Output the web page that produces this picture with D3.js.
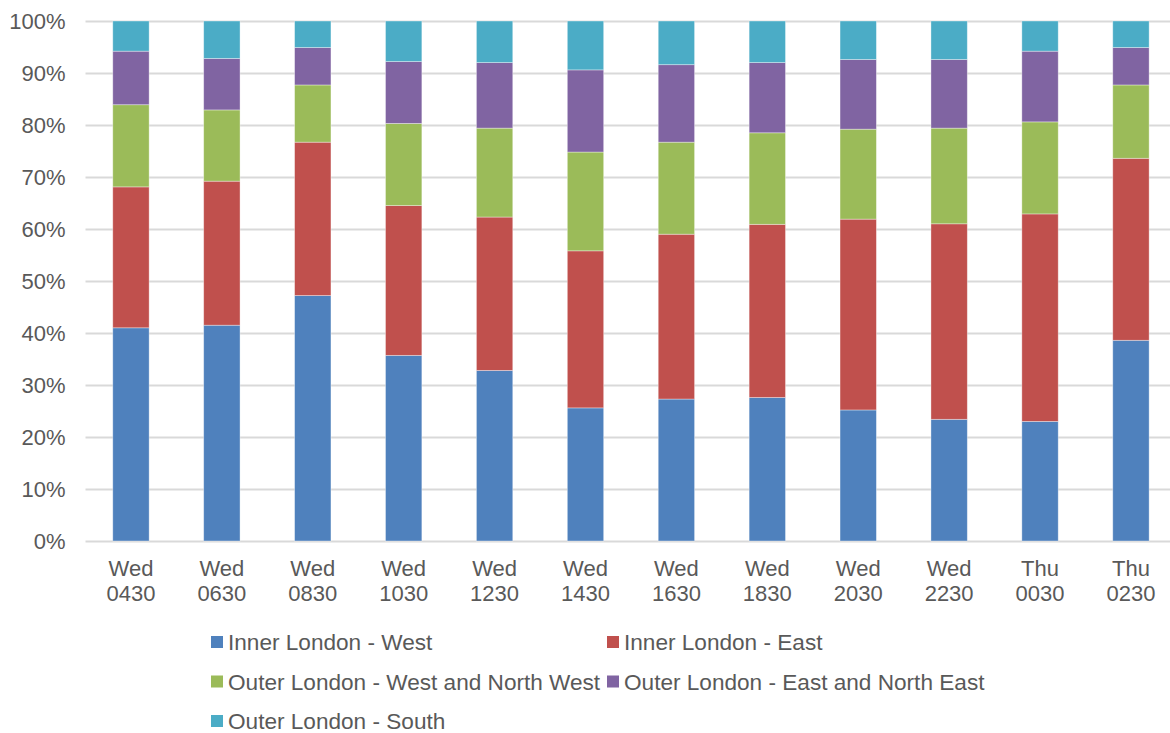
<!DOCTYPE html>
<html>
<head>
<meta charset="utf-8">
<script src="https://cdn.jsdelivr.net/npm/d3@7"></script>
<style>
  html, body { margin: 0; padding: 0; background: #fff; }
  svg { display: block; }
  text { font-family: "Liberation Sans", Arial, sans-serif; fill: #595959; }
</style>
</head>
<body>
<svg id="chart" width="1170" height="733"></svg>
<script>
const categories = [
  ["Wed","0430"],["Wed","0630"],["Wed","0830"],["Wed","1030"],["Wed","1230"],["Wed","1430"],
  ["Wed","1630"],["Wed","1830"],["Wed","2030"],["Wed","2230"],["Thu","0030"],["Thu","0230"]
];
const seriesNames = [
  "Inner London - West",
  "Inner London - East",
  "Outer London - West and North West",
  "Outer London - East and North East",
  "Outer London - South"
];
const innerWest = [41.0, 41.5, 47.2, 35.7, 32.8, 25.6, 27.3, 27.6, 25.2, 23.4, 23.0, 38.6];
const innerEast = [27.1, 27.7, 29.5, 28.8, 29.5, 30.2, 31.7, 33.3, 36.7, 37.6, 39.9, 35.0];
const outerWNW  = [15.8, 13.7, 11.0, 15.8, 17.1, 19.0, 17.7, 17.6, 17.3, 18.4, 17.7, 14.1];
const outerENE  = [10.3,  9.9,  7.2, 11.9, 12.6, 15.8, 14.9, 13.5, 13.4, 13.2, 13.6,  7.2];
const outerSouth= [ 5.8,  7.2,  5.1,  7.8,  8.0,  9.4,  8.4,  8.0,  7.4,  7.4,  5.8,  5.1];
const yTicks = [0, 0.1, 0.2, 0.3, 0.4, 0.5, 0.6, 0.7, 0.8, 0.9, 1.0];
const colors = ["#4F81BD", "#C0504D", "#9BBB59", "#8064A2", "#4BACC6"];

(function () {
const seriesValues = [innerWest, innerEast, outerWNW, outerENE, outerSouth];
const keys = seriesNames;
const table = categories.map((c, i) => {
  const row = { cat: c.join(" ") };
  keys.forEach((k, j) => row[k] = seriesValues[j][i]);
  return row;
});

const svg = d3.select("#chart");
const mLeft = 85.5, mRight = 1176.4, mTop = 21, mBottom = 541;

const x = d3.scaleBand().domain(table.map(d => d.cat)).range([mLeft, mRight])
  .paddingInner(0.6).paddingOuter(0.3);
const y = d3.scaleLinear().domain([0, 1]).range([mBottom, mTop]);
const color = d3.scaleOrdinal().domain(keys).range(colors);

// gridlines + y labels
const yAxis = d3.axisLeft(y).tickValues(yTicks).tickFormat(d3.format(".0%"))
  .tickSize(-(mRight - mLeft)).tickPadding(20);
const ga = svg.append("g").attr("transform", `translate(${mLeft},0)`).call(yAxis);
ga.select(".domain").remove();
ga.selectAll(".tick line").attr("stroke", "#d9d9d9").attr("stroke-width", 2);
ga.selectAll(".tick text").attr("font-size", 22).attr("fill", "#595959")
  .attr("font-family", "'Liberation Sans', Arial, sans-serif").attr("x", -20).attr("dy", "0.35em");

// stacked bars
const stack = d3.stack().keys(keys).offset(d3.stackOffsetExpand);
const stacked = stack(table);
svg.append("g").selectAll("g").data(stacked).join("g")
  .attr("fill", d => color(d.key))
  .selectAll("rect").data(d => d).join("rect")
  .attr("x", d => x(d.data.cat))
  .attr("width", x.bandwidth())
  .attr("y", d => y(d[1]))
  .attr("height", d => y(d[0]) - y(d[1]))
  .attr("stroke", "#ffffff").attr("stroke-opacity", 0.45).attr("stroke-width", 0.8);

// x labels
const gx = svg.append("g");
categories.forEach((c, i) => {
  const cx = x(table[i].cat) + x.bandwidth() / 2;
  const t = gx.append("text").attr("text-anchor", "middle").attr("font-size", 22);
  t.append("tspan").attr("x", cx).attr("y", 576).text(c[0]);
  t.append("tspan").attr("x", cx).attr("y", 601).text(c[1]);
});

// legend
const legendPos = [[211, 650], [607, 650], [211, 689.5], [607, 689.5], [211, 729]];
const lg = svg.append("g");
keys.forEach((k, i) => {
  const [lx, ly] = legendPos[i];
  lg.append("rect").attr("x", lx).attr("y", ly - 14).attr("width", 12).attr("height", 12)
    .attr("fill", color(k));
  lg.append("text").attr("x", lx + 17).attr("y", ly).attr("font-size", 22.6).text(k);
});
})();
</script>
</body>
</html>
